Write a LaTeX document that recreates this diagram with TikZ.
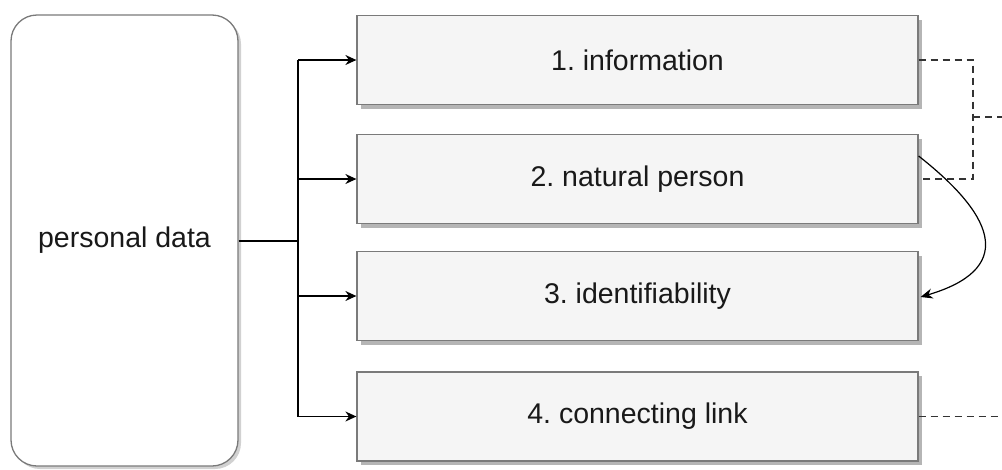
\documentclass[tikz,border=0pt]{standalone}
\usepackage{fontspec}
\setmainfont{Liberation Sans}
\frenchspacing
\usetikzlibrary{arrows.meta,shadows}
\definecolor{boxfill}{HTML}{F5F5F5}
\definecolor{boxline}{HTML}{7A7A7A}
\definecolor{shade}{HTML}{B5B5B5}
\tikzset{
  stepbox/.style={draw=boxline, line width=1.2pt, fill=boxfill, minimum width=561pt, minimum height=89pt,
    inner sep=0pt, font=\fontsize{28.5}{32}\selectfont, text=black!90,
    drop shadow={shadow xshift=4pt, shadow yshift=-4pt, fill=shade, opacity=1}},
  mainbox/.style={draw=boxline, line width=1.3pt, fill=white, rounded corners=26pt, minimum width=227pt,
    minimum height=451pt, inner sep=0pt, font=\fontsize{28.5}{32}\selectfont, text=black!90,
    drop shadow={shadow xshift=3pt, shadow yshift=-3pt, fill=black!18, opacity=1}},
  link/.style={line width=1.4pt, draw=black},
  arr/.style={link, -{Stealth[length=11pt, width=10pt]}},
  dashln/.style={line width=1.4pt, draw=black!80, dash pattern=on 7pt off 5pt}
}
\begin{document}
\begin{tikzpicture}[x=1pt,y=-1pt]
\useasboundingbox (0,0) rectangle (1002,469);
\node[mainbox] (pd) at (124.5,240.5) {personal data};
\node[stepbox] (b1) at (637.5,60) {1. information};
\node[stepbox] (b2) at (637.5,179) {2. natural person};
\node[stepbox] (b3) at (637.5,296) {3. identifiability};
\node[stepbox] (b4) at (637.5,416.5) {4. connecting link};
\coordinate (tr) at (298,241);
\draw[link] (pd.east |- tr) -- (tr);
\draw[link] (tr |- b1.west) -- (tr |- b4.west);
\draw[arr] (tr |- b1.west) -- (b1.west);
\draw[arr] (tr |- b2.west) -- (b2.west);
\draw[arr] (tr |- b3.west) -- (b3.west);
\draw[arr] (tr |- b4.west) -- (b4.west);
\coordinate (dj) at (973,117);
\coordinate (e1) at (1003,117);
\coordinate (e4) at (1003,416.5);
\draw[dashln] (b1.east) -| (dj) |- (b2.east);
\draw[dashln] (dj) -- (e1);
\draw[dashln] (b4.east) -- (e4);
\draw[link, line width=1.2pt, -{Stealth[length=12pt, width=10pt]}] ([yshift=23pt]b2.east) .. controls (1000,220) and (1012,270) .. ([xshift=2pt,yshift=-1pt]b3.east);
\end{tikzpicture}
\end{document}
